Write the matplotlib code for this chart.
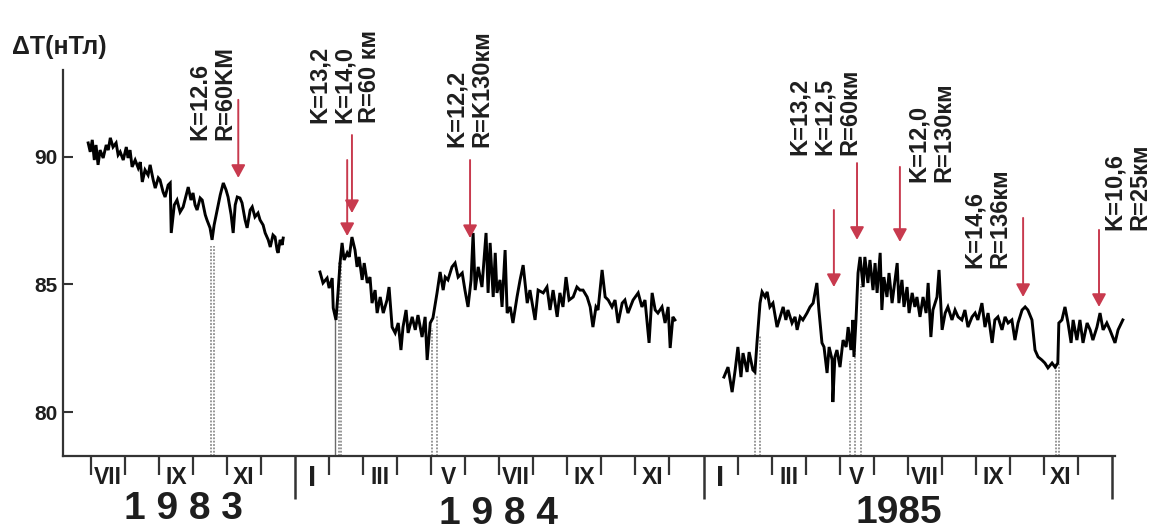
import numpy as np
import matplotlib
matplotlib.use("Agg")
import matplotlib.pyplot as plt
from matplotlib.transforms import blended_transform_factory

plt.rcParams['font.family'] = ['Liberation Sans', 'DejaVu Sans']
plt.rcParams['font.weight'] = 'bold'

# Time axis: months counted from January 1983 (0 = 1 Jan 1983)
t_1983 = [5.92, 5.98, 6.04, 6.10, 6.15, 6.21, 6.27, 6.36, 6.45, 6.51,
          6.57, 6.65, 6.74, 6.80, 6.86, 6.95, 7.04, 7.09, 7.15, 7.21,
          7.30, 7.39, 7.45, 7.51, 7.59, 7.68, 7.74, 7.83, 7.89, 7.98,
          8.03, 8.12, 8.18, 8.27, 8.33, 8.36, 8.45, 8.53, 8.62, 8.71,
          8.80, 8.86, 8.94, 9.00, 9.06, 9.12, 9.21, 9.27, 9.36, 9.41,
          9.50, 9.56, 9.62, 9.71, 9.80, 9.89, 9.97, 10.03, 10.12, 10.18,
          10.24, 10.30, 10.38, 10.44, 10.53, 10.59, 10.68, 10.74, 10.82, 10.91,
          10.97, 11.06, 11.12, 11.21, 11.27, 11.35, 11.41, 11.47, 11.50, 11.56,
          11.62, 11.65]
dT_1983 = [90.55, 90.20, 90.67, 89.88, 90.47, 89.69, 90.27, 89.96, 90.47, 90.27,
           90.75, 90.39, 90.55, 90.08, 90.20, 89.88, 90.39, 89.96, 90.27, 89.61,
           89.88, 89.57, 89.80, 89.02, 89.49, 89.29, 89.69, 89.10, 88.78, 89.18,
           89.10, 88.63, 88.43, 88.90, 88.98, 87.02, 88.12, 88.31, 87.84, 88.04,
           88.51, 88.82, 88.31, 88.59, 88.12, 87.92, 88.39, 88.31, 87.73, 87.53,
           87.22, 86.75, 87.33, 87.92, 88.51, 88.98, 88.71, 88.43, 87.73, 87.02,
           88.12, 88.43, 88.39, 88.20, 87.53, 87.22, 87.92, 88.04, 87.65, 87.80,
           87.53, 87.33, 87.02, 86.75, 86.47, 86.94, 86.86, 86.35, 86.24, 86.75,
           86.55, 86.82]

t_1984 = [12.73, 12.82, 12.94, 13.00, 13.09, 13.12, 13.20, 13.26, 13.32, 13.38,
          13.44, 13.53, 13.59, 13.67, 13.76, 13.82, 13.88, 13.97, 14.03, 14.12,
          14.20, 14.26, 14.35, 14.41, 14.50, 14.59, 14.70, 14.76, 14.85, 14.94,
          15.03, 15.11, 15.17, 15.26, 15.32, 15.44, 15.53, 15.61, 15.73, 15.82,
          15.88, 15.97, 16.05, 16.17, 16.26, 16.35, 16.41, 16.49, 16.61, 16.70,
          16.79, 16.91, 16.99, 17.08, 17.17, 17.23, 17.29, 17.38, 17.49, 17.61,
          17.67, 17.73, 17.82, 17.88, 17.93, 18.02, 18.08, 18.17, 18.23, 18.32,
          18.40, 18.52, 18.61, 18.70, 18.82, 18.90, 19.05, 19.14, 19.29, 19.40,
          19.49, 19.58, 19.70, 19.78, 19.87, 19.96, 20.05, 20.17, 20.28, 20.37,
          20.46, 20.58, 20.67, 20.75, 20.84, 20.90, 21.02, 21.11, 21.20, 21.31,
          21.40, 21.49, 21.61, 21.69, 21.78, 21.93, 22.08, 22.19, 22.28, 22.40,
          22.49, 22.58, 22.66, 22.78, 22.87, 22.96, 23.02, 23.10, 23.16]
dT_1984 = [85.49, 85.06, 85.25, 84.86, 85.25, 84.08, 83.61, 84.67, 85.84, 86.63,
           85.96, 86.24, 86.08, 86.86, 86.35, 85.69, 86.08, 85.18, 85.84, 85.06,
           85.29, 84.27, 84.78, 83.88, 84.51, 83.88, 84.39, 84.90, 83.33, 83.10,
           83.49, 82.43, 83.33, 84.00, 83.10, 83.73, 83.22, 83.80, 82.94, 83.73,
           82.04, 83.49, 83.69, 84.67, 85.49, 84.78, 85.29, 85.18, 85.69, 85.84,
           85.29, 85.45, 84.78, 84.12, 85.18, 87.02, 84.78, 85.69, 84.90, 87.02,
           84.67, 86.63, 84.51, 86.24, 84.67, 85.18, 84.12, 86.35, 83.88, 84.12,
           83.49, 84.51, 85.18, 85.76, 84.27, 84.78, 83.61, 84.78, 84.67, 84.90,
           84.00, 84.78, 83.73, 84.67, 84.12, 85.29, 84.39, 84.51, 84.90, 84.78,
           84.78, 84.51, 84.12, 83.33, 84.12, 84.00, 85.57, 84.51, 84.39, 84.12,
           84.39, 83.49, 84.27, 84.39, 83.88, 84.39, 84.67, 84.12, 84.39, 82.71,
           84.67, 84.00, 83.88, 84.12, 83.49, 84.12, 82.51, 83.73, 83.61]

t_1985 = [24.60, 24.72, 24.84, 24.93, 25.01, 25.10, 25.16, 25.28, 25.34, 25.45,
          25.51, 25.57, 25.66, 25.72, 25.81, 25.87, 25.95, 26.04, 26.16, 26.25,
          26.34, 26.42, 26.48, 26.60, 26.69, 26.75, 26.84, 26.92, 27.04, 27.13,
          27.22, 27.33, 27.39, 27.48, 27.54, 27.63, 27.69, 27.78, 27.80, 27.86,
          27.92, 28.01, 28.10, 28.19, 28.25, 28.33, 28.39, 28.42, 28.48, 28.54,
          28.60, 28.69, 28.74, 28.83, 28.89, 28.98, 29.04, 29.10, 29.19, 29.24,
          29.30, 29.39, 29.45, 29.54, 29.60, 29.69, 29.74, 29.83, 29.89, 29.98,
          30.04, 30.13, 30.21, 30.27, 30.36, 30.45, 30.54, 30.60, 30.68, 30.74,
          30.86, 30.92, 31.01, 31.10, 31.18, 31.30, 31.39, 31.48, 31.59, 31.68,
          31.77, 31.89, 31.98, 32.06, 32.18, 32.27, 32.36, 32.48, 32.56, 32.65,
          32.77, 32.86, 32.95, 33.06, 33.15, 33.24, 33.36, 33.45, 33.53, 33.65,
          33.74, 33.83, 33.94, 34.03, 34.12, 34.24, 34.33, 34.41, 34.44, 34.53,
          34.62, 34.71, 34.80, 34.86, 34.97, 35.06, 35.15, 35.27, 35.36, 35.44,
          35.56, 35.65, 35.74, 35.85, 35.94, 36.09, 36.18, 36.32]
dT_1985 = [81.37, 81.76, 80.78, 81.65, 82.55, 81.37, 82.31, 81.57, 82.35, 81.65,
           81.57, 82.71, 84.27, 84.71, 84.51, 84.71, 84.12, 84.27, 83.33, 83.73,
           84.12, 83.61, 84.00, 83.49, 83.73, 83.22, 83.73, 83.61, 83.88, 84.12,
           84.27, 85.06, 84.00, 82.71, 82.55, 81.53, 82.55, 82.04, 80.39, 82.16,
           82.43, 81.76, 82.82, 82.55, 83.33, 82.43, 83.61, 82.16, 83.61, 85.45,
           86.08, 84.90, 86.08, 85.06, 85.96, 84.78, 85.84, 84.67, 86.24, 84.00,
           85.29, 84.51, 85.45, 84.27, 84.90, 85.84, 84.27, 85.18, 84.12, 84.90,
           83.88, 84.67, 84.12, 84.51, 83.73, 84.51, 83.88, 85.06, 82.94, 84.00,
           84.51, 85.57, 83.22, 83.88, 84.12, 83.61, 84.00, 83.73, 83.61, 84.00,
           83.33, 83.73, 83.88, 83.61, 84.27, 83.33, 83.88, 82.71, 83.61, 83.73,
           83.22, 83.73, 83.49, 83.61, 82.82, 83.49, 84.00, 84.12, 84.00, 83.61,
           82.43, 82.16, 82.04, 81.92, 81.73, 81.92, 81.76, 81.92, 83.49, 83.61,
           84.12, 83.49, 82.71, 83.61, 82.82, 83.61, 82.71, 83.49, 83.22, 82.82,
           83.33, 83.88, 83.22, 83.49, 83.22, 82.71, 83.22, 83.61]

# Earthquake markers: month of event, arrow start and arrow tip (nT)
quake_month = [10.33, 13.53, 13.67, 17.14, 27.83, 28.51, 29.77, 33.39, 35.62]
arrow_from = [92.24, 89.88, 90.86, 89.88, 87.92, 89.76, 89.61, 87.61, 87.14]
arrow_to = [89.18, 86.90, 87.80, 86.82, 84.90, 86.75, 86.67, 84.51, 84.12]

# Event parameters (magnitude class K, epicentral distance R)
event_text = ["K=12.6\nR=60KM",
              "K=13,2\nK=14,0\nR=60 км",
              "K=12,2\nR=K130км",
              "K=13,2\nK=12,5\nR=60км",
              "K=12,0\nR=130км",
              "K=14,6\nR=136км",
              "K=10,6\nR=25км"]

# Onsets of anomalies (dotted guides down to the time axis)
onset_month = [9.53, 9.62, 13.29, 13.35, 16.02, 16.17, 25.51, 25.66,
               28.30, 28.45, 28.63, 34.36, 34.44]
onset_level = [86.5, 86.5, 85.9, 85.9, 83.3, 83.8, 81.6, 83.0,
               82.0, 83.5, 85.0, 81.9, 81.9]
step_month = [13.18]
step_level = [83.6]

month_names = ['VII', 'IX', 'XI', 'I', 'III', 'V', 'VII', 'IX', 'XI',
               'I', 'III', 'V', 'VII', 'IX', 'XI']
month_index = [6, 8, 10, 12, 14, 16, 18, 20, 22, 24, 26, 28, 30, 32, 34]
year_names = ['1 9 8 3', '1 9 8 4', '1985']

# ---------------------------------------------------------------- layout
W, H = 1150, 531
fig = plt.figure(figsize=(W / 100, H / 100), dpi=100)
ax = fig.add_axes([63 / W, 75 / H, 1052 / W, 386 / H])
x_lo, x_hi = 5.18, 36.09
y_lo, y_hi = 78.275, 93.41
ax.set_xlim(x_lo, x_hi)
ax.set_ylim(y_lo, y_hi)

ink = '#1e1e1e'
red = '#c83a4e'
for side in ('top', 'right'):
    ax.spines[side].set_visible(False)
for side in ('left', 'bottom'):
    ax.spines[side].set_color('#333333')
    ax.spines[side].set_linewidth(1.6)

# dotted onset guides
for m, lev in zip(onset_month, onset_level):
    ax.plot([m, m], [y_lo, lev], color='#7a7a7a', lw=1.1,
            linestyle=(0, (1.2, 1.0)), zorder=1)
for m, lev in zip(step_month, step_level):
    ax.plot([m, m], [y_lo, lev], color='#6a6a6a', lw=1.0, zorder=1)

# magnetic field series
for t, v in ((t_1983, dT_1983), (t_1984, dT_1984), (t_1985, dT_1985)):
    ax.plot(t, v, color='black', lw=2.1, solid_joinstyle='miter',
            zorder=3, clip_on=False)

# earthquake arrows
for m, a, b in zip(quake_month, arrow_from, arrow_to):
    ax.annotate('', xy=(m, b), xytext=(m, a),
                arrowprops=dict(arrowstyle='-|>,head_length=0.55,head_width=0.3',
                                color=red, lw=1.4, mutation_scale=14,
                                shrinkA=0, shrinkB=0),
                annotation_clip=False, zorder=4)

# event captions (rotated), anchored at lower-left corner
caption_pos = [(8.86, 90.67), (12.38, 91.33), (16.41, 90.39), (26.48, 90.08),
               (29.98, 89.02), (31.62, 85.65), (35.74, 87.14)]
for txt, (cx, cy) in zip(event_text, caption_pos):
    ax.text(cx, cy, txt, rotation=90, ha='left', va='bottom',
            multialignment='left', fontsize=17, fontweight='bold',
            linespacing=1.12, color=ink, zorder=5)

# y axis
ax.set_yticks([80, 85, 90])
ax.tick_params(axis='y', direction='in', length=7, width=1.5, pad=4,
               labelsize=15, colors='#333333', labelcolor=ink)

# x axis: month boundaries, long ticks at year boundaries
ax.set_xticks([12, 24, 36])
ax.set_xticks([m for m in range(6, 36) if m % 12 != 0], minor=True)
ax.tick_params(axis='x', which='major', direction='out', length=31,
               width=1.8, colors='#333333', labelbottom=False)
ax.tick_params(axis='x', which='minor', direction='out', length=14,
               width=1.6, colors='#333333', labelbottom=False)

trans = blended_transform_factory(ax.transData, ax.transAxes)
for name, m in zip(month_names, month_index):
    size = 21 if name == 'I' else 16.5
    ax.annotate(name, xy=(m + 0.5, 0), xycoords=trans, xytext=(0, -15.5),
                textcoords='offset points', ha='center', va='center',
                fontsize=size, fontweight='bold', color=ink,
                annotation_clip=False)

year_pos = [(8.71, -38), (17.99, -42), (29.74, -41)]
for name, (m, dy) in zip(year_names, year_pos):
    ax.annotate(name, xy=(m, 0), xycoords=trans, xytext=(0, dy),
                textcoords='offset points', ha='center', va='center',
                fontsize=28, fontweight='bold', color=ink,
                annotation_clip=False)

fig.text(59 / W, 1 - 47 / H, 'ΔT(нТл)', ha='center', va='center',
         fontsize=18, fontweight='bold', color=ink)

fig.savefig('out.png', dpi=100, facecolor='white')
